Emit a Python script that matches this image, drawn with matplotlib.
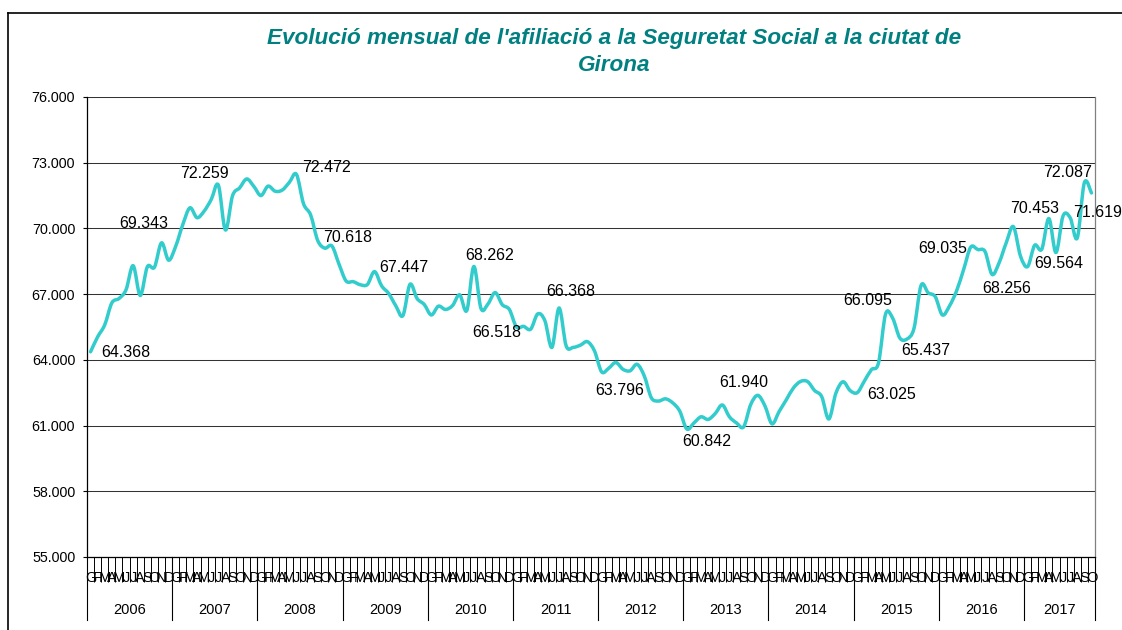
import numpy as np
import matplotlib
matplotlib.use("Agg")
import matplotlib.pyplot as plt
from matplotlib.lines import Line2D
from matplotlib.path import Path
from matplotlib.patches import PathPatch
from matplotlib.ticker import FuncFormatter

plt.rcParams['font.family'] = ['Liberation Sans', 'DejaVu Sans']

# ---------------- data (thousands of affiliates) ----------------
years = ['2006', '2007', '2008', '2009', '2010', '2011',
         '2012', '2013', '2014', '2015', '2016', '2017']
month_letters = ['G', 'F', 'M', 'A', 'M', 'J', 'J', 'A', 'S', 'O', 'N', 'D']

v2006 = [64.368, 65.05, 65.60, 66.60, 66.80, 67.20, 68.30, 66.94, 68.25, 68.23, 69.343, 68.55]
v2007 = [69.19, 70.18, 70.94, 70.49, 70.79, 71.32, 71.98, 69.93, 71.49, 71.85, 72.259, 71.92]
v2008 = [71.50, 71.93, 71.70, 71.75, 72.10, 72.472, 71.13, 70.618, 69.45, 69.10, 69.20, 68.37]
v2009 = [67.60, 67.57, 67.43, 67.44, 68.03, 67.38, 67.03, 66.47, 66.02, 67.447, 66.80, 66.53]
v2010 = [66.05, 66.45, 66.30, 66.48, 66.97, 66.25, 68.262, 66.35, 66.56, 67.07, 66.518, 66.30]
v2011 = [65.50, 65.53, 65.40, 66.10, 65.79, 64.57, 66.368, 64.64, 64.57, 64.67, 64.83, 64.40]
v2012 = [63.45, 63.62, 63.88, 63.57, 63.50, 63.796, 63.27, 62.27, 62.12, 62.22, 62.04, 61.66]
v2013 = [60.842, 61.12, 61.40, 61.28, 61.55, 61.940, 61.40, 61.12, 60.94, 61.96, 62.38, 61.90]
v2014 = [61.08, 61.64, 62.17, 62.71, 63.01, 63.01, 62.60, 62.32, 61.30, 62.48, 63.00, 62.60]
v2015 = [62.50, 63.025, 63.55, 63.86, 66.095, 65.90, 65.00, 64.95, 65.437, 67.40, 67.06, 66.88]
v2016 = [66.05, 66.46, 67.15, 68.13, 69.15, 69.035, 68.95, 67.90, 68.44, 69.35, 70.08, 68.74]
v2017 = [68.256, 69.23, 69.05, 70.453, 68.90, 70.57, 70.49, 69.564, 72.087, 71.619]

series_by_year = [v2006, v2007, v2008, v2009, v2010, v2011,
                  v2012, v2013, v2014, v2015, v2016, v2017]

# indices (months since Jan 2006) whose value is written on the chart
labelled_points = [0, 10, 22, 29, 31, 45, 54, 58, 66, 77, 84, 89,
                   109, 112, 116, 125, 132, 135, 139, 140, 141]

# ---------------- layout / style ----------------
# label offsets in screen pixels (dx right, dy down) of label centre from point
label_offsets = {0: (35, 0), 10: (-18, -20), 22: (-42, -7), 29: (30.5, -7.6),
                 31: (37, 22), 45: (-6, -17.6), 54: (15.5, -12), 58: (-5.4, 27),
                 66: (11.3, -17.2), 77: (-17.3, 25), 84: (20, 11), 89: (21.5, -23.2),
                 109: (27.6, 12), 112: (-18.2, -14.8), 116: (11.8, 21),
                 125: (-35, -2), 132: (-21, 21), 135: (-14, -11), 139: (-18.5, 24),
                 140: (-16.6, -11), 141: (6, 18)}

W, H = 1122, 630
fig = plt.figure(figsize=(W / 100, H / 100), dpi=100)
fig.patch.set_facecolor('white')

ax_left, ax_right, ax_top, ax_bottom = 87, 1095, 97, 557
ax = fig.add_axes([ax_left / W, (H - ax_bottom) / H,
                   (ax_right - ax_left) / W, (ax_bottom - ax_top) / H])

values = np.concatenate([np.array(v, dtype=float) for v in series_by_year])
x = np.arange(len(values), dtype=float)

# smoothed line (Excel "smoothed line" style): cubic Bezier segments through the data points
line_color = '#33CCCC'
pts = np.column_stack([x, values])
verts = [pts[0]]
codes = [Path.MOVETO]
t = 1.0 / 6.0
for k in range(len(pts) - 1):
    p0 = pts[k - 1] if k > 0 else pts[k]
    p1 = pts[k]
    p2 = pts[k + 1]
    p3 = pts[k + 2] if k + 2 < len(pts) else pts[k + 1]
    c1 = p1 + (p2 - p0) * t
    c2 = p2 - (p3 - p1) * t
    verts += [c1, c2, p2]
    codes += [Path.CURVE4, Path.CURVE4, Path.CURVE4]
ax.add_patch(PathPatch(Path(verts, codes), facecolor='none', edgecolor=line_color,
                       lw=2.5, joinstyle='round', capstyle='round', zorder=3))

ax.set_xlim(-0.5, len(values) - 0.5)
ax.set_ylim(55, 76)
ax.set_yticks(np.arange(55, 76.1, 3))
ax.yaxis.set_major_formatter(FuncFormatter(lambda v, p: f"{v:.3f}"))
ax.tick_params(axis='y', which='major', length=3, width=0.8, pad=5.5,
               labelsize=10.3, colors='black')
ax.yaxis.grid(True, color='#333333', lw=0.75)
ax.set_axisbelow(True)

ax.spines['top'].set_visible(False)
ax.spines['left'].set_color('black')
ax.spines['left'].set_linewidth(0.9)
ax.spines['bottom'].set_color('black')
ax.spines['bottom'].set_linewidth(0.9)
ax.spines['right'].set_color('#808080')
ax.spines['right'].set_linewidth(0.9)

# month boundary ticks
ax.set_xticks([])
ax.set_xticks(np.arange(-0.5, len(values), 1), minor=True)
ax.tick_params(axis='x', which='minor', length=18, width=0.7, direction='out',
               color='black', labelbottom=False)

xtrans = ax.get_xaxis_transform()
# month letters
for i in range(len(values)):
    ax.annotate(month_letters[i % 12], xy=(i, 0), xycoords=xtrans,
                xytext=(0, -24.5), textcoords='offset pixels',
                ha='center', va='baseline', fontsize=10.5, color='black',
                annotation_clip=False)

# year separators and labels
year_len_px = 63
n = len(values)
bounds = list(range(0, n, 12)) + [n]
for k, yr in enumerate(years):
    start = bounds[k] - 0.5
    end = bounds[k + 1] - 0.5
    ax.annotate(yr, xy=((start + end) / 2, 0), xycoords=xtrans,
                xytext=(0, -57), textcoords='offset pixels',
                ha='center', va='baseline', fontsize=10.5, color='black',
                annotation_clip=False)
for b in bounds:
    ax.add_line(Line2D([b - 0.5, b - 0.5], [0, -year_len_px / (ax_bottom - ax_top)],
                       transform=xtrans, color='black', lw=0.8, clip_on=False))

# data labels
for idx in labelled_points:
    dx, dy = label_offsets[idx]
    ax.annotate(f"{values[idx]:.3f}", xy=(idx, values[idx]),
                xytext=(dx, -dy - 5.6), textcoords='offset pixels',
                ha='center', va='baseline', fontsize=11.5, color='black',
                annotation_clip=False, zorder=4)

# title
fig.text(614 / W, 1 - 52 / H,
         "Evolució mensual de l'afiliació a la Seguretat Social a la ciutat de\nGirona",
         ha='center', va='center', multialignment='center', fontsize=16.2,
         fontweight='bold', fontstyle='italic', color='#008080', linespacing=1.4)

# outer chart border (continues beyond the crop)
fig.add_artist(Line2D([8 / W, 8 / W], [0, 1 - 13 / H], transform=fig.transFigure,
                      color='black', lw=1.2))
fig.add_artist(Line2D([8 / W, 1], [1 - 13 / H, 1 - 13 / H], transform=fig.transFigure,
                      color='black', lw=1.2))

fig.savefig('out.png', dpi=100)
